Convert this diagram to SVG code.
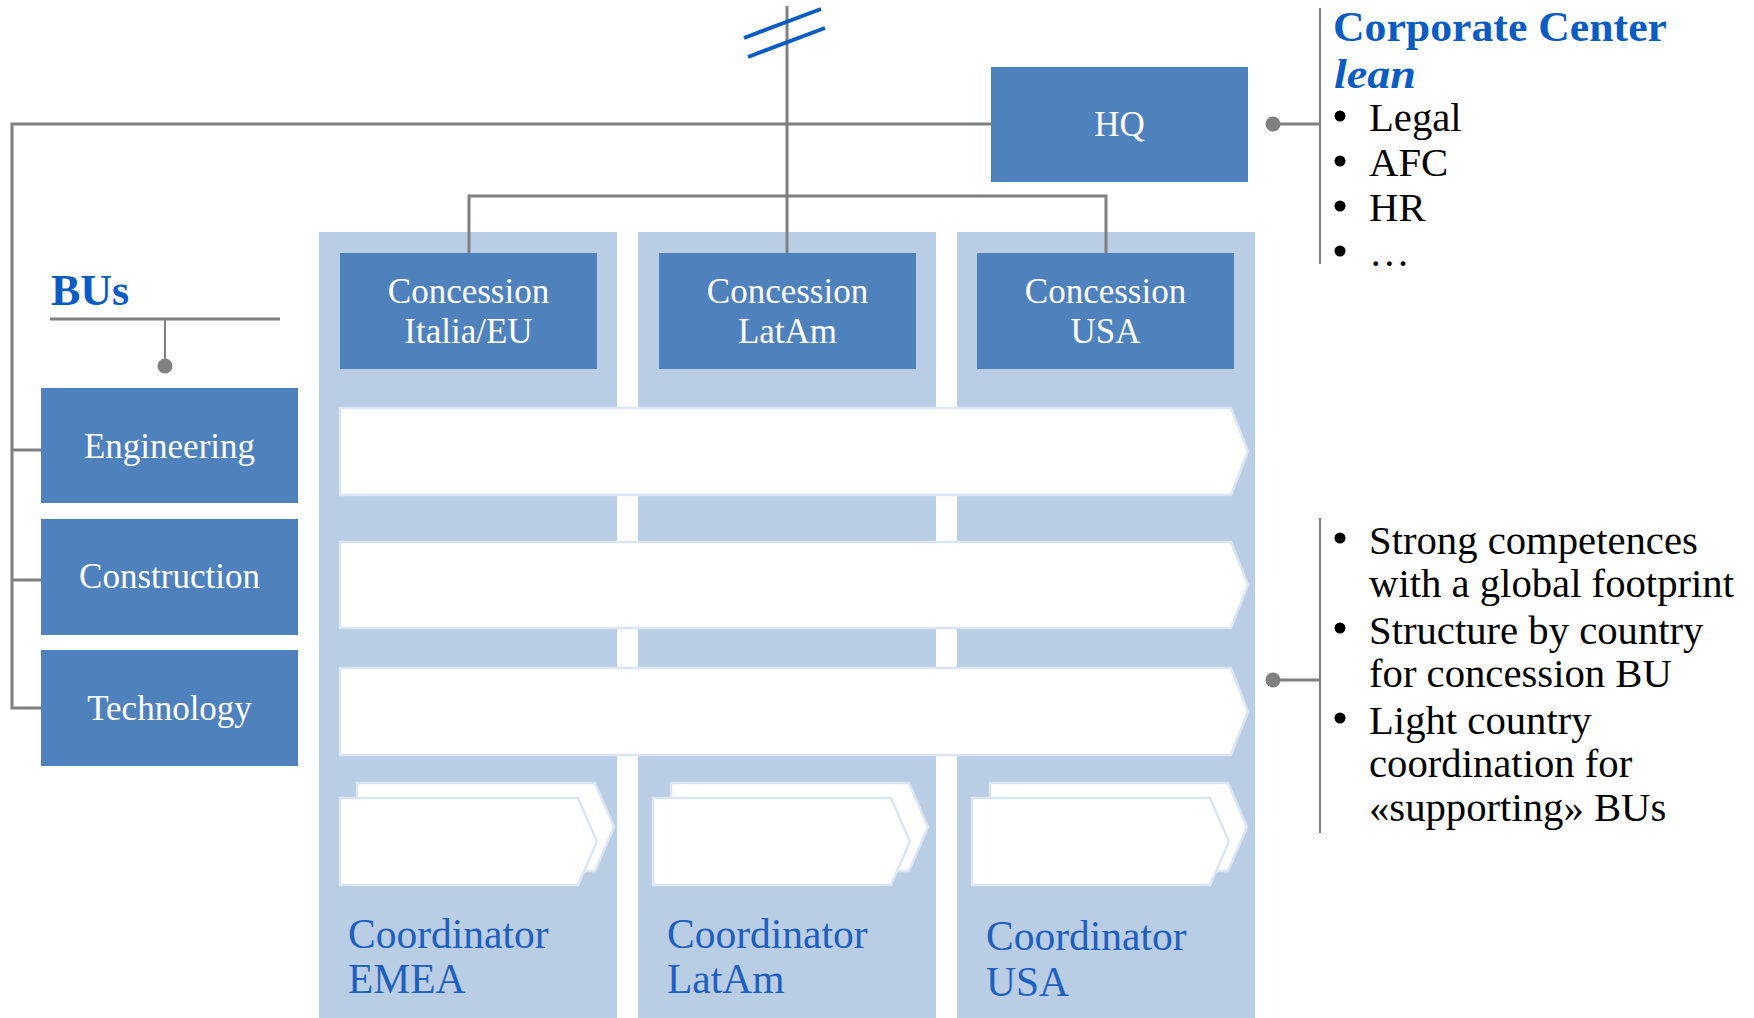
<svg xmlns="http://www.w3.org/2000/svg" width="1754" height="1018" viewBox="0 0 1754 1018">
<style>
.box{fill:#4F81BD}
.col{fill:#B9CDE5}
.band{fill:#FFFFFF;stroke:#DCE6F2;stroke-width:2.5}
.wt{font-family:"Liberation Serif",serif;font-size:35px;fill:#FFFFFF;text-anchor:middle}
.coord{font-family:"Liberation Serif",serif;font-size:41.5px;fill:#1F5FBF}
.blk{font-family:"Liberation Serif",serif;font-size:40.7px;fill:#000000}
.ttl{font-family:"Liberation Serif",serif;font-weight:bold;fill:#0B5CC2}
.ln{stroke:#808080;stroke-width:3;fill:none}
.thin{stroke:#808080;stroke-width:2;fill:none}
.dot{fill:#808080}
</style>
<rect width="1754" height="1018" fill="#FFFFFF"/>

<g id="columns">
<rect class="col" x="319" y="232" width="298" height="786"/>
<rect class="col" x="638" y="232" width="298" height="786"/>
<rect class="col" x="957" y="232" width="298" height="786"/>
</g>

<g id="connectors">
<line class="ln" x1="787" y1="6" x2="787" y2="253"/>
<polyline class="ln" points="991,124 12,124 12,708 41,708"/>
<line class="ln" x1="12" y1="450" x2="41" y2="450"/>
<line class="ln" x1="12" y1="580" x2="41" y2="580"/>
<polyline class="ln" points="469,253 469,196 1106,196 1106,253"/>
<line class="ln" x1="50" y1="319" x2="280" y2="319"/>
<line class="thin" x1="165" y1="319" x2="165" y2="366"/>
<circle class="dot" cx="165" cy="366" r="7.5"/>
<line class="thin" x1="1320" y1="8" x2="1320" y2="264"/>
<line class="ln" x1="1273" y1="124" x2="1320" y2="124"/>
<circle class="dot" cx="1273" cy="124" r="7.5"/>
<line class="thin" x1="1320" y1="518" x2="1320" y2="833"/>
<line class="ln" x1="1273" y1="680" x2="1320" y2="680"/>
<circle class="dot" cx="1273" cy="680" r="7.5"/>
<line x1="744" y1="38" x2="821" y2="9" stroke="#0B5CC2" stroke-width="4"/>
<line x1="748" y1="57" x2="825" y2="28" stroke="#0B5CC2" stroke-width="4"/>
</g>

<g id="hq">
<rect class="box" x="991" y="67" width="257" height="115"/>
<text class="wt" x="1119.5" y="136">HQ</text>
</g>

<g id="concession-italia">
<rect class="box" x="340" y="253" width="257" height="116"/>
<text class="wt" x="468.5" y="303">Concession</text>
<text class="wt" x="468.5" y="343">Italia/EU</text>
</g>
<g id="concession-latam">
<rect class="box" x="659" y="253" width="257" height="116"/>
<text class="wt" x="787.5" y="303">Concession</text>
<text class="wt" x="787.5" y="343">LatAm</text>
</g>
<g id="concession-usa">
<rect class="box" x="977" y="253" width="257" height="116"/>
<text class="wt" x="1105.5" y="303">Concession</text>
<text class="wt" x="1105.5" y="343">USA</text>
</g>

<g id="bus-title">
<text class="ttl" x="51" y="305" font-size="44">BUs</text>
</g>
<g id="engineering">
<rect class="box" x="41" y="388" width="257" height="115"/>
<text class="wt" x="169.5" y="458">Engineering</text>
</g>
<g id="construction">
<rect class="box" x="41" y="519" width="257" height="116"/>
<text class="wt" x="169.5" y="588">Construction</text>
</g>
<g id="technology">
<rect class="box" x="41" y="650" width="257" height="116"/>
<text class="wt" x="169.5" y="720">Technology</text>
</g>

<g id="bands">
<polygon class="band" points="340,408 1231,408 1248,451.5 1231,495 340,495"/>
<polygon class="band" points="340,542 1231,542 1248,585 1231,628 340,628"/>
<polygon class="band" points="340,668 1231,668 1248,711.5 1231,755 340,755"/>
</g>

<g id="coordinator-emea">
<polygon class="band" points="357,783 595,783 614,827 595,871 357,871"/>
<polygon class="band" points="340,798 578,798 597,841.5 578,885 340,885"/>
<text class="coord" x="348" y="948">Coordinator</text>
<text class="coord" x="348" y="993">EMEA</text>
</g>
<g id="coordinator-latam">
<polygon class="band" points="671,783 909,783 928,827 909,871 671,871"/>
<polygon class="band" points="653,798 891,798 910,841.5 891,885 653,885"/>
<text class="coord" x="667" y="948">Coordinator</text>
<text class="coord" x="667" y="993">LatAm</text>
</g>
<g id="coordinator-usa">
<polygon class="band" points="990,783 1228,783 1247,827 1228,871 990,871"/>
<polygon class="band" points="972,798 1210,798 1229,841.5 1210,885 972,885"/>
<text class="coord" x="986" y="950">Coordinator</text>
<text class="coord" x="986" y="996">USA</text>
</g>

<g id="corporate-center">
<text class="ttl" x="1333" y="41" font-size="42" textLength="334" lengthAdjust="spacingAndGlyphs">Corporate Center</text>
<text class="ttl" x="1334" y="88" font-size="42" font-style="italic" textLength="82" lengthAdjust="spacingAndGlyphs">lean</text>
<circle cx="1340" cy="116" r="5.5"/>
<circle cx="1340" cy="161" r="5.5"/>
<circle cx="1340" cy="206" r="5.5"/>
<circle cx="1340" cy="251" r="5.5"/>
<text class="blk" x="1369" y="131" font-size="39">Legal</text>
<text class="blk" x="1369" y="176" font-size="39">AFC</text>
<text class="blk" x="1369" y="221" font-size="39">HR</text>
<text class="blk" x="1369" y="266" font-size="39">…</text>
</g>

<g id="bu-notes">
<circle cx="1340" cy="538" r="5.5"/>
<circle cx="1340" cy="628" r="5.5"/>
<circle cx="1340" cy="718" r="5.5"/>
<text class="blk" x="1369" y="554">Strong competences</text>
<text class="blk" x="1369" y="597">with a global footprint</text>
<text class="blk" x="1369" y="644">Structure by country</text>
<text class="blk" x="1369" y="687">for concession BU</text>
<text class="blk" x="1369" y="734">Light country</text>
<text class="blk" x="1369" y="777">coordination for</text>
<text class="blk" x="1369" y="821">«supporting» BUs</text>
</g>
</svg>
